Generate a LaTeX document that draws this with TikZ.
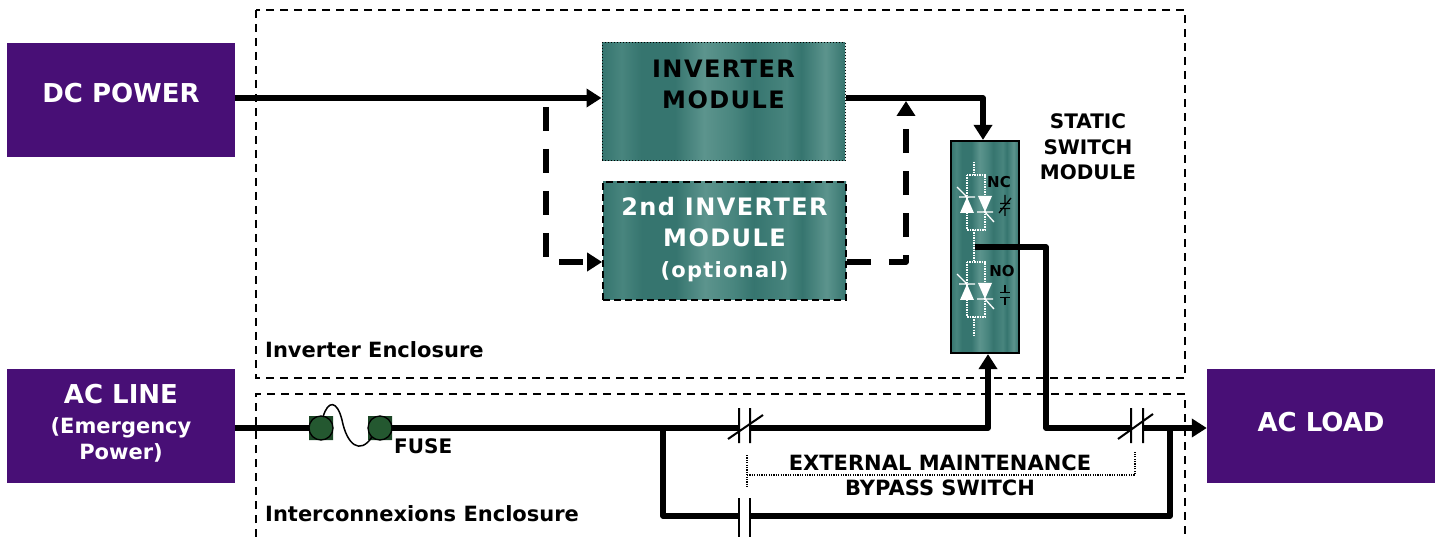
\documentclass[tikz,border=0pt]{standalone}
\usepackage{fontspec}
\setmainfont{DejaVu Sans}
\newfontfamily\spacedfont[LetterSpace=6]{DejaVu Sans}
\usetikzlibrary{arrows.meta}
\definecolor{purp}{RGB}{72,15,118}
\definecolor{tealA}{RGB}{54,117,111}
\definecolor{tealB}{RGB}{72,133,126}
\definecolor{tealC}{RGB}{92,148,141}
\definecolor{fusesq}{RGB}{28,70,38}
\definecolor{fusec}{RGB}{36,88,48}
\pgfdeclarehorizontalshading{streaks}{100bp}{color(0bp)=(tealA); color(25bp)=(tealA); color(29bp)=(tealB); color(33bp)=(tealA); color(40bp)=(tealA); color(46bp)=(tealC); color(52bp)=(tealB); color(56bp)=(tealA); color(63bp)=(tealB); color(66bp)=(tealA); color(71bp)=(tealC); color(75bp)=(tealA); color(100bp)=(tealA)}
\newcommand\smf{\fontsize{21}{25}\selectfont}
\begin{document}
\begin{tikzpicture}[x=1pt,y=-1pt,
  every node/.style={font=\bfseries},
  srcbox/.style={fill=purp, minimum width=228pt, minimum height=114pt, inner sep=0pt},
  modbox/.style={shade, shading=streaks, minimum width=243pt, minimum height=118pt, inner sep=0pt},
  wire/.style={line width=5.5pt, line join=round},
  dwire/.style={wire, dash pattern=on 24pt off 18pt},
  arrowed/.style={-{Triangle[length=15pt,width=18pt]}},
  encl/.style={line width=1.6pt, dash pattern=on 8pt off 6pt},
  cline/.style={line width=2pt},
  dotln/.style={line width=1.5pt, dash pattern=on 1.2pt off 1.2pt},
  ssw/.style={white, line width=1.5pt, dash pattern=on 1.5pt off 1pt},
  bigtxt/.style={font=\bfseries\fontsize{26}{30}\selectfont, text=white, align=center, inner sep=0pt},
  modtxt/.style={font=\spacedfont\bfseries\fontsize{24}{31}\selectfont, align=center, inner sep=0pt},
  lbltxt/.style={font=\bfseries\fontsize{20}{25.5}\selectfont, inner sep=0pt},
  enctxt/.style={font=\bfseries\fontsize{21}{25}\selectfont, inner sep=0pt},
  tinytxt/.style={font=\bfseries\fontsize{15}{17}\selectfont, inner sep=0pt}
]
\useasboundingbox (0,0) rectangle (1435,537);
% enclosures
\draw[encl] (256,10) rectangle (1185,378);
\draw[encl] (256,537) -- (256,394) -- (1185,394) -- (1185,537);
\node[anchor=base west, enctxt] (encA) at (265,357) {Inverter Enclosure};
\node[anchor=base west, enctxt] (encB) at (265,521) {Interconnexions Enclosure};
% source / load boxes
\node[srcbox] (dc) at (121,100) {};
\node[bigtxt] (dct) at (121,93) {DC POWER};
\node[srcbox] (acl) at (121,426) {};
\node[bigtxt] (aclt) at (121,423) {AC LINE\\\smf (Emergency\\[-4pt]\smf Power)};
\node[srcbox] (acload) at (1321,426) {};
\node[bigtxt] (acloadt) at (1321,422) {AC LOAD};
% modules
\node[modbox, draw, dotted, line width=1pt] (inv) at (723.5,102) {};
\node[modtxt, text=black] (invt) at (723.5,84) {INVERTER\\MODULE};
\node[modbox, draw, line width=1.8pt, dash pattern=on 7pt off 4pt] (inv2) at (724.5,241) {};
\node[modtxt, text=white] (inv2t) at (724.5,240) {2nd INVERTER\\MODULE\\\smf (optional)};
% static switch
\node[draw, line width=2.2pt, shade, shading=streaks, minimum width=68pt, minimum height=212pt, inner sep=0pt] (ss) at (985,247) {};
\node[lbltxt, align=center] (sst) at (1088,147) {STATIC\\SWITCH\\MODULE};
% switch internals
\draw[ssw] (974,162) -- (974,175) (967,175) rectangle (985,230) (974,230) -- (974,262) (967,262) rectangle (985,317) (974,317) -- (974,335);
\foreach \dy in {0,87}{
  \fill[white] (967,197+\dy) -- (960,213+\dy) -- (974,213+\dy) -- cycle;
  \draw[white, line width=1.3pt] (959,197+\dy) -- (975,197+\dy) (957,187+\dy) -- (968,198+\dy);
  \fill[white] (985,212+\dy) -- (978,196+\dy) -- (992,196+\dy) -- cycle;
  \draw[white, line width=1.3pt] (977,212+\dy) -- (993,212+\dy) (984,211+\dy) -- (994,222+\dy);
}
\node[tinytxt] (nc) at (999,182) {NC};
\draw[line width=1.3pt] (1005,195) -- (1005,203.5) (1005,208.5) -- (1005,216) (1000,203.5) -- (1010,203.5) (1000,208.5) -- (1010,208.5) (999,213) -- (1011,198);
\node[tinytxt] (no) at (1002,271) {NO};
\draw[line width=1.3pt] (1005,285) -- (1005,292.5) (1005,297.5) -- (1005,305) (1000,292.5) -- (1010,292.5) (1000,297.5) -- (1010,297.5);
% coordinates
\coordinate (a1) at (546,98);
\coordinate (d1) at (546,107);
\coordinate (d2) at (546,262);
\coordinate (o1) at (906,262);
\coordinate (o2) at (906,101);
\coordinate (c1) at (983,98);
\coordinate (s1) at (975,247);
\coordinate (s2) at (1046,247);
\coordinate (s3) at (1046,428);
\coordinate (k1) at (1131,428);
\coordinate (k2) at (1143,428);
\coordinate (f1) at (321,428);
\coordinate (f2) at (380,428);
\coordinate (b1) at (739,428);
\coordinate (b2) at (750,428);
\coordinate (u1) at (988,428);
\coordinate (j1) at (663,428);
\coordinate (j2) at (663,516);
\coordinate (m1) at (739,516);
\coordinate (m2) at (750,516);
\coordinate (r1) at (1170,516);
\coordinate (r2) at (1170,428);
% DC path
\draw[wire, arrowed] (dc.east |- a1) -- (inv.west |- a1);
\draw[dwire, arrowed] (d1) -- (d2) -- (inv2.west |- d2);
\draw[dwire, arrowed] (inv2.east |- o1) -- (o1) -- (o2);
\draw[wire, arrowed] (inv.east |- c1) -- (c1) -- (c1 |- ss.north);
% switch output
\draw[wire] (s1) -- (s2) -- (s3) -- (k1);
\draw[wire, arrowed] (k2) -- (acload.west |- k2);
% AC line
\draw[wire] (acl.east |- f1) -- (f1);
\draw[wire] (f2) -- (b1);
\draw[wire, arrowed] (b2) -- (u1) -- (u1 |- ss.south);
% bypass
\draw[wire] (j1) -- (j2) -- (m1);
\draw[wire] (m2) -- (r1) -- (r2);
% contacts
\draw[cline] (739,408) -- (739,443) (750,408) -- (750,443) (728,439) -- (763,415);
\draw[cline] (739,498) -- (739,537) (750,498) -- (750,537);
\draw[cline] (1131,408) -- (1131,443) (1143,408) -- (1143,443) (1118,439) -- (1153,414);
% bracket
\draw[dotln] (747,455) -- (747,487) (747,475) -- (1135,475) -- (1135,452);
\node[enctxt] (bp1) at (940,463) {EXTERNAL MAINTENANCE};
\node[enctxt] (bp2) at (940,488) {BYPASS SWITCH};
% fuse
\fill[fusesq] (309,416) rectangle (333,440) (368,416) rectangle (392,440);
\draw[line width=1.3pt, fill=fusec] (f1) circle (12pt) (f2) circle (12pt);
\draw[line width=1.5pt] (323,417) .. controls (328,400) and (337,400) .. (342,420) .. controls (347,445) and (360,455) .. (372,437);
\node[anchor=base west, lbltxt] (fuse) at (394,453) {FUSE};
\end{tikzpicture}
\end{document}
